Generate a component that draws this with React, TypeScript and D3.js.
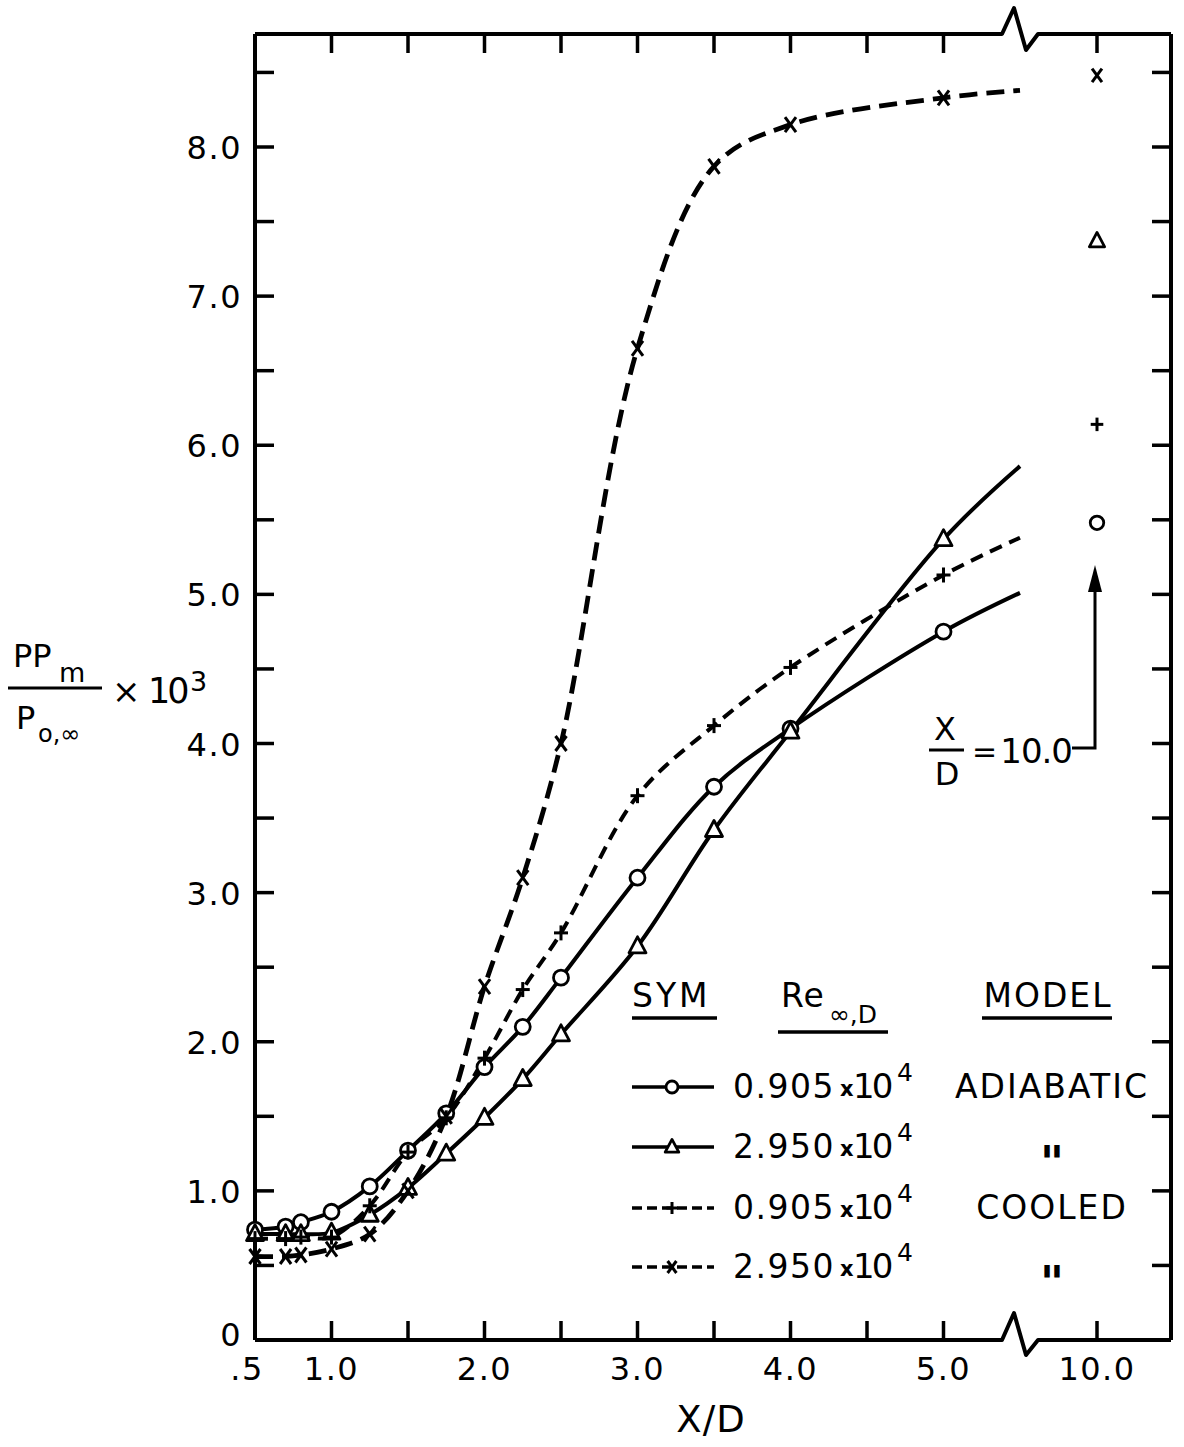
import React from "react";
import * as d3 from "d3";

// ---------- data ----------
const xValues = [0.5, 0.7, 0.8, 1.0, 1.25, 1.5, 1.75, 2.0, 2.25, 2.5, 3.0, 3.5, 4.0, 5.0];
const adiabatic0905 = [0.74, 0.76, 0.79, 0.86, 1.03, 1.27, 1.52, 1.83, 2.1, 2.43, 3.1, 3.71, 4.1, 4.75];
const adiabatic2950 = [0.71, 0.71, 0.71, 0.72, 0.84, 1.02, 1.25, 1.49, 1.75, 2.05, 2.64, 3.42, 4.08, 5.37];
const cooled0905 = [0.68, 0.68, 0.69, 0.69, 0.9, 1.26, 1.49, 1.89, 2.35, 2.73, 3.65, 4.12, 4.51, 5.13];
const cooled2950 = [0.56, 0.56, 0.57, 0.61, 0.71, 1.0, 1.5, 2.37, 3.1, 4.0, 6.65, 7.87, 8.15, 8.33];
const curveEndX = 5.5;
const curveEndValues = [5.01, 5.86, 5.38, 8.38];
const farX = 10.0;
const farValues = [5.48, 7.37, 6.14, 8.48];

const yTicksMajor = [0, 1, 2, 3, 4, 5, 6, 7, 8];
const yTickLabels = ["0", "1.0", "2.0", "3.0", "4.0", "5.0", "6.0", "7.0", "8.0"];
const yTicksMinor = [0.5, 1.5, 2.5, 3.5, 4.5, 5.5, 6.5, 7.5, 8.5];
const xTicks = [1.0, 1.5, 2.0, 2.5, 3.0, 3.5, 4.0, 4.5, 5.0];
const xTickLabelValues = [0.5, 1.0, 2.0, 3.0, 4.0, 5.0];
const xTickLabels = [".5", "1.0", "2.0", "3.0", "4.0", "5.0"];
const farTickLabel = "10.0";

const legendRe = ["0.905", "2.950", "0.905", "2.950"];
const legendModel = ["ADIABATIC", "\"", "COOLED", "\""];

// ---------- layout ----------
const W = 1184;
const H = 1447;
const LEFT = 255;
const RIGHT = 1171;
const TOP = 34;
const BOTTOM = 1340;
const FONT = "DejaVu Sans, sans-serif";

const xMain = d3.scaleLinear().domain([0.5, 5.5]).range([LEFT, 1020]);
const xFar = d3.scaleLinear().domain([9.5, 10.5]).range([1020.5, 1173.5]);
const y = d3.scaleLinear().domain([0, 8]).range([BOTTOM, 147]);

type Sym = "circle" | "triangle" | "plus" | "cross";
const series: { vals: number[]; sym: Sym; dash?: string; sw: number }[] = [
  { vals: adiabatic0905, sym: "circle", sw: 4 },
  { vals: adiabatic2950, sym: "triangle", sw: 4 },
  { vals: cooled0905, sym: "plus", dash: "13,8", sw: 4 },
  { vals: cooled2950, sym: "cross", dash: "18,9", sw: 4.8 },
];

function Marker({ sym, cx, cy, s = 1 }: { sym: Sym; cx: number; cy: number; s?: number }) {
  if (sym === "circle")
    return <circle cx={cx} cy={cy} r={7.5 * s} fill="#fff" stroke="#000" strokeWidth={2.8} />;
  if (sym === "triangle") {
    const p = d3.path();
    p.moveTo(cx, cy - 9.5 * s);
    p.lineTo(cx + 8.5 * s, cy + 6.5 * s);
    p.lineTo(cx - 8.5 * s, cy + 6.5 * s);
    p.closePath();
    return <path d={p.toString()} fill="#fff" stroke="#000" strokeWidth={2.8} strokeLinejoin="round" />;
  }
  if (sym === "plus")
    return (
      <g stroke="#000" strokeWidth={3}>
        <line x1={cx - 7 * s} x2={cx + 7 * s} y1={cy} y2={cy} />
        <line x1={cx} x2={cx} y1={cy - 7.5 * s} y2={cy + 7.5 * s} />
      </g>
    );
  return (
    <g stroke="#000" strokeWidth={3}>
      <line x1={cx - 5.5 * s} x2={cx + 5.5 * s} y1={cy - 7.5 * s} y2={cy + 7.5 * s} />
      <line x1={cx + 5.5 * s} x2={cx - 5.5 * s} y1={cy - 7.5 * s} y2={cy + 7.5 * s} />
    </g>
  );
}

export default function App() {
  const line = d3
    .line<[number, number]>()
    .x((d) => xMain(d[0]))
    .y((d) => y(d[1]))
    .curve(d3.curveCatmullRom.alpha(0.5));

  // axis paths with breaks
  const bx0 = 1002, bx1 = 1014, bx2 = 1026, bx3 = 1038;
  const bottomPath = `M${LEFT},${BOTTOM}L${bx0},${BOTTOM}L${bx1},${BOTTOM - 27}L${bx2},${BOTTOM + 15}L${bx3},${BOTTOM}L${RIGHT},${BOTTOM}`;
  const topPath = `M${LEFT},${TOP}L${bx0},${TOP}L${bx1},${TOP - 26}L${bx2},${TOP + 16}L${bx3},${TOP}L${RIGHT},${TOP}`;

  const allY = [...yTicksMajor, ...yTicksMinor];
  const legendRows = [1087, 1147, 1208, 1267];

  return (
    <svg
      width={W}
      height={H}
      style={{ position: "absolute", left: 0, top: 0, background: "#fff" }}
      fontFamily={FONT}
    >
      <rect x={0} y={0} width={W} height={H} fill="#fff" />
      {/* frame */}
      <g fill="none" stroke="#000" strokeWidth={4} strokeLinejoin="round">
        <path d={bottomPath} />
        <path d={topPath} />
        <line x1={LEFT} x2={LEFT} y1={TOP} y2={BOTTOM} />
        <line x1={RIGHT} x2={RIGHT} y1={TOP} y2={BOTTOM} />
      </g>
      {/* ticks */}
      <g stroke="#000" strokeWidth={3.5}>
        {allY.map((v) => (
          <g key={"y" + v}>
            <line x1={LEFT} x2={LEFT + 19} y1={y(v)} y2={y(v)} />
            <line x1={RIGHT} x2={RIGHT - 19} y1={y(v)} y2={y(v)} />
          </g>
        ))}
        {xTicks.map((v) => (
          <g key={"x" + v}>
            <line x1={xMain(v)} x2={xMain(v)} y1={BOTTOM} y2={BOTTOM - 19} />
            <line x1={xMain(v)} x2={xMain(v)} y1={TOP} y2={TOP + 19} />
          </g>
        ))}
        <line x1={xFar(farX)} x2={xFar(farX)} y1={BOTTOM} y2={BOTTOM - 19} />
        <line x1={xFar(farX)} x2={xFar(farX)} y1={TOP} y2={TOP + 19} />
      </g>
      {/* tick labels */}
      <g fontSize={32} fill="#000" letterSpacing={1.5}>
        {yTicksMajor.map((v, i) => (
          <text key={v} x={242} y={y(v) + (v === 0 ? 6 : 12)} textAnchor="end">
            {yTickLabels[i]}
          </text>
        ))}
        {xTickLabelValues.map((v, i) => (
          <text key={v} x={xMain(v) - (v === 0.5 ? 8 : 0)} y={1380} textAnchor="middle">
            {xTickLabels[i]}
          </text>
        ))}
        <text x={xFar(farX)} y={1380} textAnchor="middle">
          {farTickLabel}
        </text>
      </g>
      {/* axis titles */}
      <text x={711} y={1432} fontSize={37} textAnchor="middle" letterSpacing={1}>
        X/D
      </text>
      <g fill="#000">
        <text x={13} y={667} fontSize={32}>PP</text>
        <text x={59} y={682} fontSize={27}>m</text>
        <line x1={8} x2={102} y1={688} y2={688} stroke="#000" strokeWidth={3} />
        <text x={16} y={729} fontSize={32}>P</text>
        <text x={38} y={742} fontSize={24}>o,∞</text>
        <text x={112} y={703} fontSize={34}>×</text>
        <text x={148} y={703} fontSize={35} letterSpacing={-3}>10</text>
        <text x={190} y={691} fontSize={27}>3</text>
      </g>
      {/* curves */}
      {series.map((s, i) => {
        const pts: [number, number][] = xValues.map((xv, j) => [xv, s.vals[j]]);
        pts.push([curveEndX, curveEndValues[i]]);
        return (
          <path
            key={"c" + i}
            d={line(pts) || ""}
            fill="none"
            stroke="#000"
            strokeWidth={s.sw}
            strokeDasharray={s.dash}
          />
        );
      })}
      {/* markers */}
      {series.map((s, i) => (
        <g key={"m" + i}>
          {xValues.map((xv, j) => (
            <Marker key={j} sym={s.sym} cx={xMain(xv)} cy={y(s.vals[j])} />
          ))}
          <Marker sym={s.sym} cx={xFar(farX)} cy={y(farValues[i])} s={0.9} />
        </g>
      ))}
      {/* annotation X/D = 10.0 */}
      <g fill="#000">
        <text x={945} y={740} fontSize={32} textAnchor="middle">X</text>
        <line x1={929} x2={964} y1={750} y2={750} stroke="#000" strokeWidth={3} />
        <text x={947} y={785} fontSize={32} textAnchor="middle">D</text>
        <text x={972} y={762} fontSize={30}>=</text>
        <text x={1072} y={763} fontSize={34} textAnchor="end" letterSpacing={-1}>10.0</text>
        <path d={`M1072,748L1095,748L1095,588`} fill="none" stroke="#000" strokeWidth={3} />
        <path d="M1095,565L1102,592L1088,592Z" fill="#000" />
      </g>
      {/* legend */}
      <g fill="#000">
        <text x={632} y={1007} fontSize={33} letterSpacing={3}>SYM</text>
        <line x1={632} x2={717} y1={1018} y2={1018} stroke="#000" strokeWidth={3.5} />
        <text x={781} y={1007} fontSize={33} letterSpacing={1}>Re</text>
        <text x={829} y={1023} fontSize={25}>∞,D</text>
        <line x1={778} x2={888} y1={1032} y2={1032} stroke="#000" strokeWidth={3.5} />
        <text x={1048} y={1007} fontSize={33} textAnchor="middle" letterSpacing={2}>MODEL</text>
        <line x1={982} x2={1112} y1={1018} y2={1018} stroke="#000" strokeWidth={3.5} />
        {legendRows.map((ry, i) => {
          const s = series[i];
          const ditto = legendModel[i] === "\"";
          return (
            <g key={"l" + i}>
              <line
                x1={632}
                x2={714}
                y1={ry}
                y2={ry}
                stroke="#000"
                strokeWidth={3.5}
                strokeDasharray={s.dash ? "10,5" : undefined}
              />
              <Marker sym={s.sym} cx={672} cy={ry} s={0.8} />
              <text x={733} y={ry + 11} fontSize={33} letterSpacing={1.5}>
                {legendRe[i]}
              </text>
              <text x={840} y={ry + 9} fontSize={21} fontWeight="bold">x</text>
              <text x={853} y={ry + 11} fontSize={34} letterSpacing={-3}>10</text>
              <text x={897} y={ry - 6} fontSize={25}>4</text>
              <text
                x={1052}
                y={ditto ? ry + 32 : ry + 11}
                fontSize={ditto ? 46 : 33}
                fontWeight={ditto ? "bold" : "normal"}
                textAnchor="middle"
                letterSpacing={ditto ? 0 : 2}
              >
                {legendModel[i]}
              </text>
            </g>
          );
        })}
      </g>
    </svg>
  );
}
